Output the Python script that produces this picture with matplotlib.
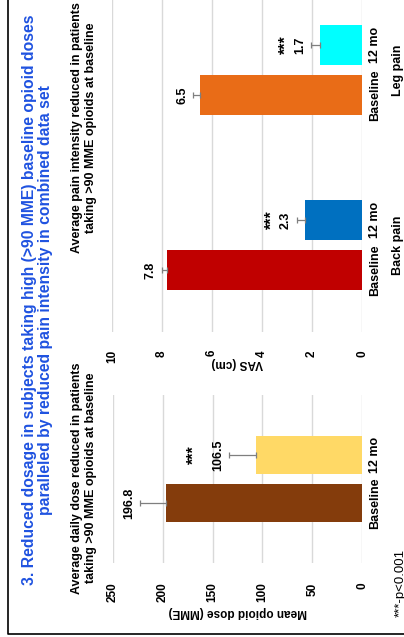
import matplotlib.pyplot as plt
from matplotlib.lines import Line2D

plt.rcParams['font.family'] = ['Liberation Sans', 'DejaVu Sans']
plt.rcParams['font.weight'] = 'bold'

# ---- data ----
dose_cats = ["Baseline", "12 mo"]
dose_vals = [196.8, 106.5]
dose_err = [26, 27]
dose_sig = ["", "***"]
dose_colors = ["#843C0C", "#FFD966"]

vas_cats = ["Baseline", "12 mo", "Baseline", "12 mo"]
vas_groups = ["Back pain", "Leg pain"]
vas_vals = [7.8, 2.3, 6.5, 1.7]
vas_err = [0.2, 0.3, 0.25, 0.35]
vas_sig = ["", "***", "", "***"]
vas_colors = ["#C00000", "#0070C0", "#E96C17", "#00FFFF"]

W, H = 404, 637
fig = plt.figure(figsize=(W / 100, H / 100), dpi=100)


def px_axes(left, right, top, bottom):
    return fig.add_axes([left / W, 1 - bottom / H, (right - left) / W, (bottom - top) / H])


def style(ax, vmax, step, pad):
    ax.set_xlim(vmax, 0)
    ax.set_xticks(range(0, vmax + 1, step))
    ax.grid(axis="x", color="#d9d9d9", lw=1)
    ax.set_axisbelow(True)
    for s in ax.spines.values():
        s.set_visible(False)
    ax.tick_params(axis="x", length=0, labelrotation=90, pad=pad, labelsize=8.5)
    ax.yaxis.tick_right()
    ax.tick_params(axis="y", length=0, labelrotation=90, pad=5, labelsize=9)
    for t in ax.get_yticklabels():
        t.set_va("center")


def bars(ax, pos, vals, err, colors, sig, height, star_off):
    ax.barh(pos, vals, height=height, color=colors,
            xerr=[[0] * len(vals), err],
            error_kw=dict(ecolor="#7f7f7f", elinewidth=0.9, capsize=2, capthick=0.9))
    for p, v, e, s in zip(pos, vals, err, sig):
        ax.annotate(f"{v:g}", (v + e, p), xytext=(-5, 0), textcoords="offset pixels",
                    rotation=90, ha="right", va="center", fontsize=9)
        if s:
            ax.annotate(s, (v + e, p), xytext=(star_off, 0), textcoords="offset pixels",
                        rotation=90, ha="center", va="center", fontsize=11.5)


# ---- VAS panel ----
ax_vas = px_axes(112, 362, 0, 332)
vas_pos = [0, 1, 3.5, 4.5]
bars(ax_vas, vas_pos, vas_vals, vas_err, vas_colors, vas_sig, 0.8, -25)
ax_vas.set_ylim(-1.24, 5.4)
ax_vas.set_yticks(vas_pos, vas_cats)
style(ax_vas, 10, 2, 13)
for name, gp in zip(vas_groups, [0.5, 4.0]):
    ax_vas.annotate(name, (1, gp), xycoords=("axes fraction", "data"), xytext=(36, 0),
                    textcoords="offset pixels", rotation=90, ha="center", va="center",
                    fontsize=9)
ax_vas.annotate("VAS (cm)", (0.5, 0), xycoords="axes fraction", xytext=(0, -31),
                textcoords="offset pixels", rotation=180, ha="center", va="center",
                fontsize=8.5)

# ---- dose panel ----
ax_dose = px_axes(113, 362, 395, 563)
dose_pos = [0, 1]
bars(ax_dose, dose_pos, dose_vals, dose_err, dose_colors, dose_sig, 0.79, -35)
ax_dose.set_ylim(-1.25, 2.25)
ax_dose.set_yticks(dose_pos, dose_cats)
style(ax_dose, 250, 50, 14)
ax_dose.annotate("Mean opioid dose (MME)", (0.5, 0), xycoords="axes fraction",
                 xytext=(0, -49), textcoords="offset pixels", rotation=180,
                 ha="center", va="center", fontsize=8.5)

# ---- titles ----
fig.text(37.5 / W, 1 - 300 / H,
         "3. Reduced dosage in subjects taking high (>90 MME) baseline opioid doses\n"
         "paralleled by reduced pain intensity in combined data set",
         rotation=90, ha="center", va="center", multialignment="center",
         color="#1F52E0", fontsize=11.3, linespacing=1.12)
fig.text(84 / W, 1 - 128 / H,
         "Average pain intensity reduced in patients\ntaking >90 MME opioids at baseline",
         rotation=90, ha="center", va="center", multialignment="center",
         fontsize=9, linespacing=1.15)
fig.text(84 / W, 1 - 478 / H,
         "Average daily dose reduced in patients\ntaking >90 MME opioids at baseline",
         rotation=90, ha="center", va="center", multialignment="center",
         fontsize=9, linespacing=1.15)
fig.text(401 / W, 1 - 617 / H, "***-p<0.001", rotation=90, ha="center", va="bottom",
         fontsize=9.5, fontweight="normal")

# frame
fig.add_artist(Line2D([8 / W, 8 / W, 1], [1, 1 - 634 / H, 1 - 634 / H],
                      transform=fig.transFigure, color="black", lw=1.2))

fig.savefig("out.png", dpi=100)
